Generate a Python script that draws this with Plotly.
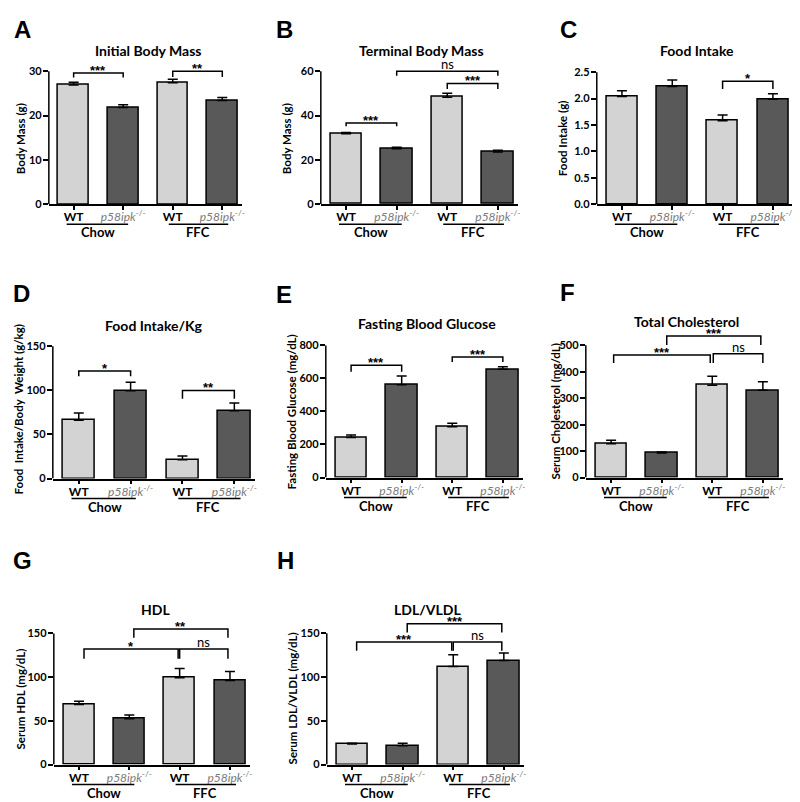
import numpy as np
import plotly.graph_objects as go

W, H = 800, 802
FONT = "Lato"

# bar order in every panel: WT Chow, p58ipk-/- Chow, WT FFC, p58ipk-/- FFC
genotypes = ["WT", "p58ipk", "WT", "p58ipk"]
diets = ["Chow", "FFC"]

letters = ["A", "B", "C", "D", "E", "F", "G", "H"]
titles = ["Initial Body Mass", "Terminal Body Mass", "Food Intake", "Food Intake/Kg",
          "Fasting Blood Glucose", "Total Cholesterol", "HDL", "LDL/VLDL"]
ylabels = ["Body Mass (g)", "Body Mass (g)", "Food Intake (g)",
           "Food  Intake/Body  Weight (g/kg)", "Fasting Blood Glucose (mg/dL)",
           "Serum Cholesterol (mg/dL)", "Serum HDL (mg/dL)", "Serum LDL/VLDL (mg/dL)"]

initial_mass = [26.9, 21.8, 27.4, 23.4]
initial_mass_sem = [0.6, 0.65, 0.8, 0.65]
terminal_mass = [31.8, 25.1, 48.3, 23.6]
terminal_mass_sem = [0.6, 0.6, 1.8, 0.8]
food_intake = [2.04, 2.23, 1.58, 1.99]
food_intake_sem = [0.11, 0.12, 0.11, 0.10]
food_per_kg = [66.1, 99.5, 21.2, 76.9]
food_per_kg_sem = [8.2, 9.7, 4.4, 8.9]
glucose = [243, 561, 308, 655]
glucose_sem = [14, 54, 20, 16]
cholesterol = [128, 93, 349, 330]
cholesterol_sem = [13, 4, 34, 32]
hdl = [68.6, 52.5, 99.4, 96.0]
hdl_sem = [3.8, 4.1, 10.5, 10.5]
ldl = [23.6, 21.6, 112, 118.9]
ldl_sem = [0.8, 2.8, 13.6, 8.6]

values = [initial_mass, terminal_mass, food_intake, food_per_kg, glucose, cholesterol, hdl, ldl]
sems = [initial_mass_sem, terminal_mass_sem, food_intake_sem, food_per_kg_sem,
        glucose_sem, cholesterol_sem, hdl_sem, ldl_sem]

y_top = [30, 60, 2.5, 150, 800, 500, 150, 150]
y_step = [10, 20, 0.5, 50, 200, 100, 50, 50]
y_max = [31, 61.5, 2.55, 155, 810, 540, 158, 163]

# significance brackets: (left x, right x, top, left end, right end, label)
brackets = [
    [(0, 1, 29.6, 28.6, 28.6, "***"), (2, 3, 30.0, 28.7, 28.7, "**")],
    [(0, 1, 36.7, 35.2, 35.2, "***"), (2, 3, 54.5, 52.0, 52.0, "***"),
     (1, 3, 60.0, 58.0, 58.0, "ns")],
    [(2, 3, 2.33, 2.18, 2.18, "*")],
    [(0, 1, 122, 116, 116, "*"), (2, 3, 100, 90.6, 90.6, "**")],
    [(0, 1, 680, 640, 640, "***"), (2, 3, 730, 700, 700, "***")],
    [(0.05, 1.96, 464, 433, 433, "***"), (2.02, 3, 468, 433, 433, "ns"),
     (1.1, 2.96, 535, 501, 501, "***")],
    [(0.1, 1.97, 132, 121, 121, "*"), (2.0, 2.96, 132, 121, 121, "ns"),
     (1.09, 2.96, 155, 145, 145, "**")],
    [(0.09, 1.97, 140, 130, 130, "***"), (2.0, 2.96, 140, 130, 130, "ns"),
     (1.09, 2.96, 161, 151, 151, "***")],
]

# panel geometry in pixels: axis left, axis right, y of zero, y of top tick
geom = [
    (41, 235, 194, 59), (314, 512, 194, 59), (591, 788, 194, 60),
    (45, 248, 472, 338), (319, 517, 471, 337), (580, 778, 471, 337),
    (46, 243, 762, 629), (320, 518, 762, 629),
]
letter_pos = [(15, 17), (278, 17), (563, 17), (14, 284), (277, 285), (562, 283), (15, 555), (279, 555)]
title_pos = [(141, 38), (415, 38), (692, 38), (147, 317), (421, 315), (681, 313), (148, 605), (421, 605)]
ylabel_pos = [(12, 127), (279, 127), (556, 127), (11, 402), (285, 404), (550, 404), (13, 695), (286, 695)]

LIGHT = "#d3d3d3"
DARK = "#595959"
GREY_TXT = "#7a7a7a"


def px(x):
    return x / W


def py(y):
    return 1 - y / H


fig = go.Figure()
shapes = []
annotations = []
layout = {}

ticktext = ["<b>WT</b>", f"<span style='color:{GREY_TXT}'><i>p58ipk</i><sup>-/-</sup></span>"] * 2

for k in range(8):
    n = "" if k == 0 else str(k + 1)
    xa, ya = "x" + n, "y" + n
    left, right, yz, yt = geom[k]
    top_px = yz - (yz - yt) * y_max[k] / y_top[k]

    fig.add_trace(go.Bar(
        x=[0, 1, 2, 3], y=values[k],
        width=0.62,
        marker=dict(color=[LIGHT, DARK, LIGHT, DARK], line=dict(color="black", width=1.5)),
        error_y=dict(type="data", array=sems[k], arrayminus=[0] * 4, symmetric=False,
                     color="black", thickness=1.5, width=5),
        xaxis=xa, yaxis=ya, showlegend=False,
    ))

    tv = list(np.arange(0, y_top[k] + y_step[k] / 2, y_step[k]))
    tt = [f"<b>{v:.1f}</b>" if k == 2 else f"<b>{int(round(v))}</b>" for v in tv]
    layout["xaxis" + n] = dict(
        domain=[px(left), px(right)], anchor=ya, range=[-0.5, 3.4],
        showline=True, linecolor="black", linewidth=1.5,
        ticks="outside", ticklen=4, tickwidth=1.5, tickcolor="black",
        tickvals=[0, 1, 2, 3], ticktext=ticktext, ticklabelstandoff=-3,
        tickfont=dict(family=FONT, size=12, color="black"),
        showgrid=False, zeroline=False, fixedrange=True,
    )
    layout["yaxis" + n] = dict(
        domain=[py(yz), py(top_px)], anchor=xa, range=[0, y_max[k]],
        showline=False, ticks="outside", ticklen=5, tickwidth=1.5, tickcolor="black",
        tickvals=tv, ticktext=tt, ticklabelstandoff=-1,
        tickfont=dict(family=FONT, size=11, color="black"),
        showgrid=False, zeroline=False, fixedrange=True,
    )

    # y axis line only up to the top tick
    shapes.append(dict(type="line", xref=xa + " domain", yref=ya, x0=0, x1=0, y0=0, y1=y_top[k],
                       line=dict(color="black", width=1.5)))

    # diet underlines and labels
    for d, (x0, x1) in enumerate([(-0.14, 1.1), (1.92, 3.12)]):
        shapes.append(dict(type="line", xref=xa, yref=ya + " domain", ysizemode="pixel", yanchor=0,
                           x0=x0, x1=x1, y0=-20, y1=-20, line=dict(color="black", width=1.5)))
        annotations.append(dict(text=f"<b>{diets[d]}</b>", xref=xa, yref=ya + " domain",
                                x=0.5 + 2 * d, y=0, yshift=-28, yanchor="middle", showarrow=False,
                                font=dict(family=FONT, size=13, color="black")))

    for (x0, x1, t, yl, yr, lab) in brackets[k]:
        shapes.append(dict(type="path", xref=xa, yref=ya,
                           path=f"M {x0},{yl} L {x0},{t} L {x1},{t} L {x1},{yr}",
                           line=dict(color="black", width=1.5)))
        if lab == "ns":
            annotations.append(dict(text=lab, xref=xa, yref=ya, x=(x0 + x1) / 2, y=t,
                                    yanchor="bottom", showarrow=False, yshift=-3,
                                    font=dict(family=FONT, size=13, color="black")))
        else:
            annotations.append(dict(text=f"<b>{lab}</b>", xref=xa, yref=ya, x=(x0 + x1) / 2, y=t,
                                    yanchor="bottom", showarrow=False, yshift=-7,
                                    font=dict(family="Liberation Sans", size=13, color="black")))

    lx, ly = letter_pos[k]
    annotations.append(dict(text=f"<b>{letters[k]}</b>", xref="paper", yref="paper",
                            x=px(lx), y=py(ly), xanchor="center", yanchor="middle", showarrow=False,
                            font=dict(family="Liberation Sans", size=24, color="black")))
    tx, ty = title_pos[k]
    annotations.append(dict(text=f"<b>{titles[k]}</b>", xref="paper", yref="paper",
                            x=px(tx), y=py(ty), xanchor="center", yanchor="middle", showarrow=False,
                            font=dict(family=FONT, size=14, color="black")))
    yx, yy = ylabel_pos[k]
    annotations.append(dict(text=f"<b>{ylabels[k]}</b>", xref="paper", yref="paper",
                            x=px(yx), y=py(yy), xanchor="center", yanchor="middle", showarrow=False,
                            textangle=-90, font=dict(family=FONT, size=11.5, color="black")))

fig.update_layout(
    width=W, height=H, margin=dict(l=0, r=0, t=0, b=0),
    paper_bgcolor="white", plot_bgcolor="white",
    shapes=shapes, annotations=annotations, bargap=0,
    **layout,
)

fig.write_html("out.html")
